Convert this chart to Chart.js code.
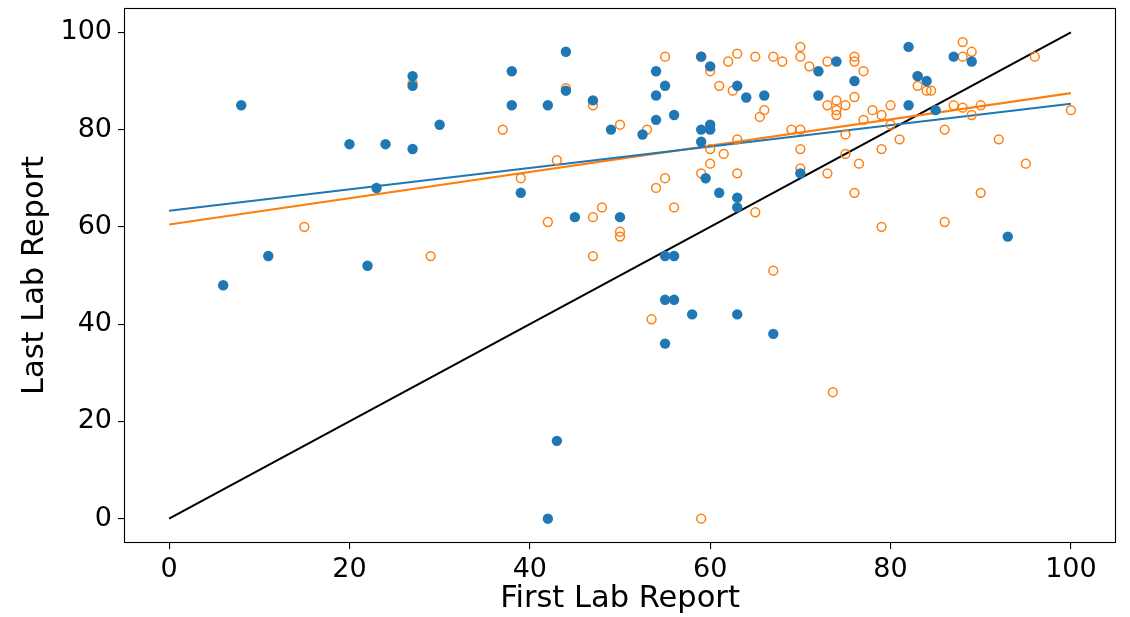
<!DOCTYPE html>
<html>
<head>
<meta charset="utf-8">
<script src="https://cdn.jsdelivr.net/npm/chart.js@4.4.0/dist/chart.umd.min.js"></script>
<style>
html,body{margin:0;padding:0;background:#fff;}
#wrap{width:1130px;height:617px;position:relative;}
</style>
</head>
<body>
<div id="wrap"><canvas id="c" width="1130" height="617"></canvas></div>
<script>
const xTicks = [0, 20, 40, 60, 80, 100];
const yTicks = [0, 20, 40, 60, 80, 100];

const blueX = [6, 8, 11, 20, 22, 23, 24, 27, 27, 27, 30, 38, 38, 39, 42, 42, 43, 44, 44, 45, 47, 49, 50, 52.5, 54, 54, 54, 55, 55, 55, 55, 56, 56, 56, 58, 59, 59, 59, 59.5, 60, 60, 60, 61, 63, 63, 63, 63, 64, 66, 67, 70, 72, 72, 74, 76, 82, 82, 83, 84, 85, 87, 89, 93];
const blueY = [48, 85, 54, 77, 52, 68, 77, 91, 89, 76, 81, 92, 85, 67, 85, 0, 16, 96, 88, 62, 86, 80, 62, 79, 92, 87, 82, 89, 54, 45, 36, 83, 54, 45, 42, 95, 80, 77.5, 70, 93, 81, 80, 67, 89, 66, 64, 42, 86.6, 87, 38, 71, 92, 87, 94, 90, 97, 85, 91, 90, 84, 95, 94, 58];

const orangeX = [15, 27, 29, 37, 39, 42, 43, 44, 47, 47, 47, 48, 50, 50, 50, 53, 53.5, 54, 55, 55, 56, 59, 59, 59, 60, 60, 60, 61, 61.5, 62, 62.5, 63, 63, 63, 65, 65, 65.5, 66, 67, 67, 68, 69, 70, 70, 70, 70, 70, 71, 73, 73, 73, 73.6, 74, 74, 74, 75, 75, 75, 76, 76, 76, 76, 76.5, 77, 77, 78, 79, 79, 79, 80, 80, 81, 83, 83, 84, 84.5, 86, 86, 87, 88, 88, 88, 89, 89, 90, 90, 92, 95, 96, 100];
const orangeY = [60, 89.5, 54, 80, 70, 61, 73.7, 88.5, 85, 62, 54, 64, 81, 59, 58, 80, 41, 68, 95, 70, 64, 95, 71, 0, 92, 76, 73, 89, 75, 94, 88, 95.6, 78, 71, 95, 63, 82.6, 84, 95, 51, 94, 80, 97, 95, 80, 76, 72, 93, 94, 85, 71, 26, 86, 84, 83, 85, 79, 75, 95, 94, 86.7, 67, 73, 92, 82, 84, 83, 76, 60, 85, 81, 78, 91, 89, 88, 88, 80, 61, 85, 98, 95, 84.5, 96, 83, 85, 67, 78, 73, 95, 84];

const lineX = [0, 100];
const blueFitY = [63.3, 85.3];
const orangeFitY = [60.5, 87.5];
const identityY = [0, 100];

const toPts = (xs, ys) => xs.map((x, i) => ({x: x, y: ys[i]}));

const BLUE = '#1f77b4', ORANGE = '#ff7f0e';
const FONT = 'DejaVu Sans';

const framePlugin = {
  id: 'frame',
  afterDraw(chart) {
    const a = chart.chartArea, ctx = chart.ctx;
    ctx.save();
    ctx.strokeStyle = '#000';
    ctx.lineWidth = 1.1;
    ctx.strokeRect(a.left + 0.5, a.top + 0.5, a.right - a.left - 1, a.bottom - a.top - 1);
    ctx.restore();
  }
};

new Chart(document.getElementById('c'), {
  type: 'scatter',
  data: {
    datasets: [
      {label: 'blue', data: toPts(blueX, blueY), backgroundColor: BLUE, borderColor: BLUE, borderWidth: 0, pointRadius: 5.2, order: 1},
      {label: 'orange', data: toPts(orangeX, orangeY), backgroundColor: 'rgba(0,0,0,0)', borderColor: ORANGE, borderWidth: 1.5, pointRadius: 4.4, order: 2},
      {label: 'blueFit', data: toPts(lineX, blueFitY), showLine: true, borderColor: BLUE, borderWidth: 2.1, pointRadius: 0, order: 3},
      {label: 'orangeFit', data: toPts(lineX, orangeFitY), showLine: true, borderColor: ORANGE, borderWidth: 2.1, pointRadius: 0, order: 3},
      {label: 'identity', data: toPts(lineX, identityY), showLine: true, borderColor: '#000', borderWidth: 2.1, pointRadius: 0, order: 3}
    ]
  },
  options: {
    responsive: false,
    animation: false,
    events: [],
    layout: {padding: {top: 8, right: 14, left: 0, bottom: 0}},
    plugins: {legend: {display: false}, tooltip: {enabled: false}},
    scales: {
      x: {
        type: 'linear', min: -5, max: 105,
        afterBuildTicks(s) { s.ticks = xTicks.map(v => ({value: v})); },
        afterFit(s) { s.height = 74; s.paddingLeft = 0; s.paddingRight = 0; },
        border: {display: false},
        grid: {drawOnChartArea: false, drawTicks: true, tickLength: 6, color: '#000', lineWidth: 1.1},
        ticks: {color: '#000', font: {family: FONT, size: 27}, padding: 5, maxRotation: 0},
        title: {display: true, text: 'First Lab Report', color: '#000', font: {family: FONT, size: 30.5}, padding: {top: 0, bottom: 0}}
      },
      y: {
        type: 'linear', min: -5, max: 105,
        afterBuildTicks(s) { s.ticks = yTicks.map(v => ({value: v})); },
        afterFit(s) { s.width = 124; s.paddingTop = 0; s.paddingBottom = 0; },
        border: {display: false},
        grid: {drawOnChartArea: false, drawTicks: true, tickLength: 6, color: '#000', lineWidth: 1.1},
        ticks: {color: '#000', font: {family: FONT, size: 27}, padding: 6},
        title: {display: true, text: 'Last Lab Report', color: '#000', font: {family: FONT, size: 30.5}, padding: {top: 17, bottom: 0}}
      }
    }
  },
  plugins: [framePlugin]
});
</script>
</body>
</html>
